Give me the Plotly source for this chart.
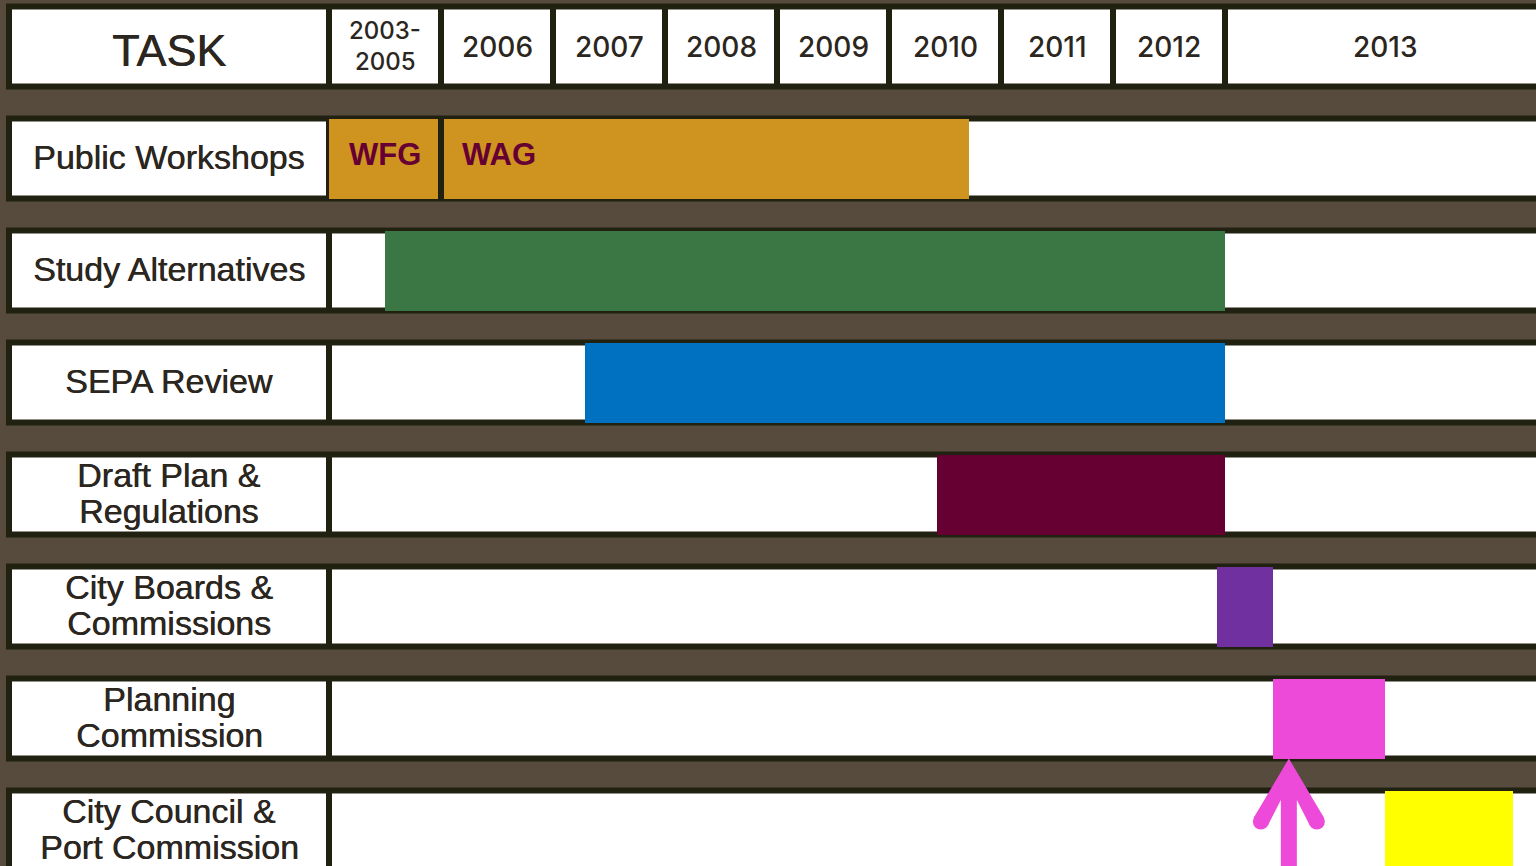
import plotly.graph_objects as go

# ---------------- data ----------------
tasks = ["Public Workshops", "Study Alternatives", "SEPA Review",
         "Draft Plan &<br>Regulations", "City Boards &<br>Commissions",
         "Planning<br>Commission", "City Council &<br>Port Commission"]
header_title = "TASK"
year_labels = ["2003-<br>2005", "2006", "2007", "2008", "2009", "2010", "2011", "2012", "2013"]
year_edges = [0, 1, 2, 3, 4, 5, 6, 7, 8, 10.86]   # column index units

bar_row = [1, 1, 2, 3, 4, 5, 6, 7]
bar_start = [0.0, 1.03, 0.50, 2.29, 5.43, 7.93, 8.43, 9.43]
bar_end = [0.97, 5.71, 8.00, 8.00, 8.00, 8.43, 9.43, 10.57]
bar_colors = ["#CF9320", "#CF9320", "#3A7745", "#0070C0", "#660033", "#7030A0", "#EE4AD9", "#FFFF00"]
bar_text = ["WFG", "WAG", "", "", "", "", "", ""]
bar_text_align = ["center", "left", "", "", "", "", "", ""]

milestone_x = 8.57     # arrow position (2013)
milestone_row = 6

# ---------------- style ----------------
BG = "#574B3E"
DARK = "#212112"
WHITE = "#FFFFFF"
TXT = "#2B2620"
U = 112.0  # pixels per unit
W, H = 1536, 866
x0 = -329 / U
x1 = (W - 329) / U
y_top = -46.5 / U
y_bot = (H - 46.5) / U

fig = go.Figure()

shapes = []
OUT = 43 / U
INN = 37 / U
BW = 80 / U
LBL_L_OUT = (6 - 329) / U
LBL_L = (12 - 329) / U
LBL_R = (326 - 329) / U
TL_L = (332 - 329) / U
FAR = 12

def rect(xa, xb, ya, yb, color, layer="below"):
    shapes.append(dict(type="rect", xref="x", yref="y", x0=xa, x1=xb, y0=ya, y1=yb,
                       fillcolor=color, line=dict(width=0), layer=layer))

rows = list(range(len(tasks) + 1))
for r in rows:
    rect(LBL_L_OUT, FAR, r - OUT, r + OUT, DARK)
    rect(LBL_L, LBL_R, r - INN, r + INN, WHITE)
    if r == 0:
        for i in range(len(year_labels)):
            rect(year_edges[i] + 3 / U, year_edges[i + 1] - 3 / U, r - INN, r + INN, WHITE)
    else:
        rect(TL_L, FAR, r - INN, r + INN, WHITE)

# dark divider between adjacent bars in the same row
for i in range(len(bar_start) - 1):
    if bar_row[i] == bar_row[i + 1] and bar_start[i + 1] > bar_end[i]:
        rect(bar_end[i], bar_start[i + 1], bar_row[i] - BW / 2, bar_row[i] + BW / 2, DARK)

annotations = []

def add_lines(text, x, y, size, color, family, xanchor="center", bold=False, spacing=1.1,
              weight=None, shadow=None):
    lines = text.split("<br>")
    n = len(lines)
    for i, ln in enumerate(lines):
        off = (i - (n - 1) / 2) * size * spacing / U
        f = dict(size=size, color=color, family=family)
        if weight:
            f["weight"] = weight
        if shadow:
            f["shadow"] = shadow
        annotations.append(dict(x=x, y=y + off, xref="x", yref="y", text=("<b>%s</b>" % ln) if bold else ln,
                                showarrow=False, xanchor=xanchor, yanchor="middle", font=f))

SH = "0.5px 0px 0px " + TXT

# header
add_lines(header_title, (LBL_L + LBL_R) / 2, 0.04, 45, TXT, "Liberation Sans", shadow=SH)
for i, lab in enumerate(year_labels):
    cx = (year_edges[i] + year_edges[i + 1]) / 2
    if "<br>" in lab:
        add_lines(lab, cx, -0.005, 24, TXT, "Inter", spacing=1.28, weight=500)
    else:
        add_lines(lab, cx, 0.0, 28, TXT, "Inter", weight=500)

# task labels
for i, t in enumerate(tasks):
    add_lines(t, (LBL_L + LBL_R) / 2, i + 1 - 1.5 / U, 34, TXT, "Liberation Sans", spacing=1.03, shadow=SH)

# bars
for i in range(len(bar_start)):
    fig.add_trace(go.Bar(
        y=[bar_row[i]], x=[bar_end[i] - bar_start[i]], base=[bar_start[i]],
        orientation="h", width=BW, marker=dict(color=bar_colors[i], line=dict(width=0)),
        hoverinfo="skip", showlegend=False))
    if bar_text[i]:
        if bar_text_align[i] == "center":
            add_lines(bar_text[i], (bar_start[i] + bar_end[i]) / 2 + 2 / U, bar_row[i] - 4 / U,
                      31, "#660033", "Liberation Sans", bold=True)
        else:
            add_lines(bar_text[i], bar_start[i] + 16 / U, bar_row[i] - 4 / U,
                      31, "#660033", "Liberation Sans", xanchor="left", bold=True)

# milestone arrow (pixel-offset geometry relative to tip)
PINK = "#EE4AD9"
tx = milestone_x
ty = milestone_row + 40 / U
pts = [(0, 0), (35, 59), (21, 67), (8, 41.5), (8, 130), (-8, 130), (-8, 41.5), (-21, 67), (-35, 59)]
path = "M " + " L ".join("%f,%f" % (tx + px / U, ty + py / U) for px, py in pts) + " Z"
shapes.append(dict(type="path", xref="x", yref="y", path=path, fillcolor=PINK,
                   line=dict(width=0), layer="above"))
for sx in (-28, 28):
    shapes.append(dict(type="circle", xref="x", yref="y",
                       x0=tx + (sx - 8) / U, x1=tx + (sx + 8) / U,
                       y0=ty + (63 - 8) / U, y1=ty + (63 + 8) / U,
                       fillcolor=PINK, line=dict(width=0), layer="above"))

fig.update_layout(
    width=W, height=H, autosize=False,
    margin=dict(l=0, r=0, t=0, b=0, pad=0),
    paper_bgcolor=BG, plot_bgcolor=BG,
    xaxis=dict(range=[x0, x1], visible=False, fixedrange=True),
    yaxis=dict(range=[y_bot, y_top], visible=False, fixedrange=True),
    shapes=shapes, annotations=annotations,
    bargap=0, barmode="overlay",
)

fig.write_html("out.html", config={"displayModeBar": False},
               post_script="document.body.style.margin='0';document.body.style.padding='0';document.body.style.overflow='hidden';")
